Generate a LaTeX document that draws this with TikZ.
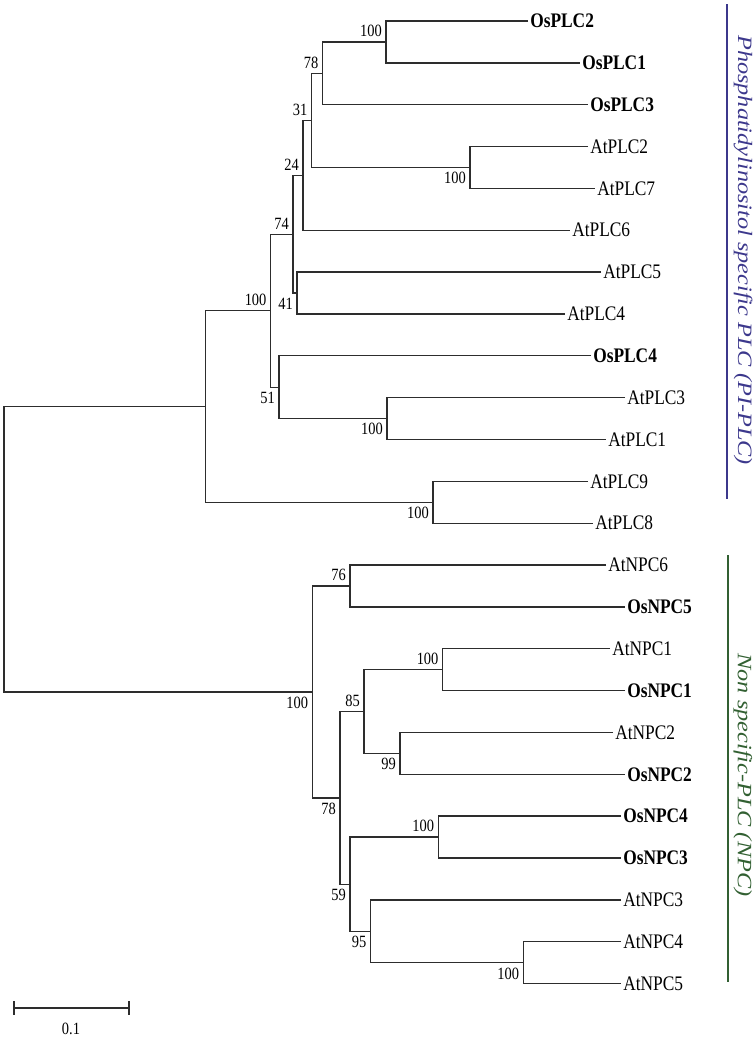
\documentclass[tikz,border=0pt]{standalone}
\usepackage{fontspec}
\setmainfont{Liberation Serif}[FakeStretch=0.84]
\newfontfamily\cladefont{Liberation Serif}[FakeStretch=1.19]
\usetikzlibrary{calc}
\definecolor{piplcblue}{RGB}{60,56,140}
\definecolor{npcgreen}{RGB}{50,96,50}
\definecolor{treegray}{RGB}{45,45,45}

\begin{document}
\begin{tikzpicture}[x=0.75pt, y=-0.75pt,
	branch/.style={draw=treegray, line width=1pt},
	atleaf/.style={anchor=west, inner xsep=1.5pt, inner ysep=0pt, font=\fontsize{15.5}{18}\selectfont},
	osleaf/.style={atleaf, font=\fontsize{15.5}{18}\selectfont\bfseries},
	boot/.style={inner sep=0pt, font=\fontsize{12.9}{15}\selectfont},
	bsup/.style={boot, anchor=south east, xshift=-3pt, yshift=3.5pt},
	bsdown/.style={boot, anchor=north east, xshift=-3pt, yshift=-3.5pt},
	cladebar/.style={line width=1pt},
	cladetext/.style={rotate=-90, font=\cladefont\itshape\fontsize{15.3}{18}\selectfont}]
	\useasboundingbox (0,0) rectangle (754,1039);
	\def\FirstLeaf{21}
	\def\LeafGap{41.85}
	% la cay
	\foreach \name/\xx/\i in {OsPLC2/528/0, OsPLC1/580/1, OsPLC3/588/2, OsPLC4/591/8, OsNPC5/625/14, OsNPC1/625/16, OsNPC2/625/18, OsNPC4/621/19, OsNPC3/621/20}
	\node[osleaf] (\name) at (\xx, {\FirstLeaf+\LeafGap*\i}) {\name};
	\foreach \name/\xx/\i in {AtPLC2/588/3, AtPLC7/595/4, AtPLC6/570/5, AtPLC5/601/6, AtPLC4/565/7, AtPLC3/625/9, AtPLC1/606/10, AtPLC9/588/11, AtPLC8/593/12, AtNPC6/606/13, AtNPC1/610/15, AtNPC2/613/17, AtNPC3/621/21, AtNPC4/621/22, AtNPC5/621/23}
	\node[atleaf] (\name) at (\xx, {\FirstLeaf+\LeafGap*\i}) {\name};
	\newcommand{\joint}[4]{
		\path let \p1=(#3), \p2=(#4) in ({#2*0.75pt}, {0.5*(\y1+\y2)}) coordinate (#1);
		\draw[branch] (#3) -| (#1) |- (#4);
	}
	\newcommand{\clade}[6]{
		\joint{#1}{#2}{#3}{#4}
		\node[#6] (b#1) at (#1) {#5};
	}
	% PI-PLC
	\clade{n1}{386}{OsPLC2.west}{OsPLC1.west}{100}{bsup}
	\clade{n2}{322.7}{n1}{OsPLC3.west}{78}{bsup}
	\clade{n3}{470}{AtPLC2.west}{AtPLC7.west}{100}{bsdown}
	\clade{n4}{311.7}{n2}{n3}{31}{bsup}
	\clade{n5}{303}{n4}{AtPLC6.west}{24}{bsup}
	\clade{n6}{297}{AtPLC5.west}{AtPLC4.west}{41}{bsdown}
	\clade{n7}{293}{n5}{n6}{74}{bsup}
	\clade{n8}{387}{AtPLC3.west}{AtPLC1.west}{100}{bsdown}
	\clade{n9}{279}{OsPLC4.west}{n8}{51}{bsdown}
	\clade{n10}{270.7}{n7}{n9}{100}{bsup}
	\clade{n11}{433}{AtPLC9.west}{AtPLC8.west}{100}{bsdown}
	\joint{n12}{205.7}{n10}{n11}
	% NPC
	\clade{m1}{350}{AtNPC6.west}{OsNPC5.west}{76}{bsup}
	\clade{m2}{442.7}{AtNPC1.west}{OsNPC1.west}{100}{bsup}
	\clade{m3}{400}{AtNPC2.west}{OsNPC2.west}{99}{bsdown}
	\clade{m4}{364}{m2}{m3}{85}{bsup}
	\clade{m5}{438.3}{OsNPC4.west}{OsNPC3.west}{100}{bsup}
	\clade{m6}{523.3}{AtNPC4.west}{AtNPC5.west}{100}{bsdown}
	\clade{m7}{370.7}{AtNPC3.west}{m6}{95}{bsdown}
	\clade{m8}{350}{m5}{m7}{59}{bsdown}
	\clade{m9}{340}{m4}{m8}{78}{bsdown}
	\clade{m10}{312.3}{m1}{m9}{100}{bsdown}
	\joint{root}{4}{n12}{m10}
	% thanh ty le
	\coordinate (barL) at (14,1008);
	\coordinate (barR) at (129,1008);
	\draw[branch] (barL) -- (barR);
	\draw[branch] ([yshift=5.25pt]barL) -- ([yshift=-5.25pt]barL) ([yshift=5.25pt]barR) -- ([yshift=-5.25pt]barR);
	\node[boot] (barlabel) at (71,1029) {0.1};
	% nhom
	\draw[cladebar, piplcblue] (727,4) -- (727,499);
	\node[cladetext, text=piplcblue] (piplc) at (743,250) {Phosphatidylinositol specific PLC (PI-PLC)};
	\draw[cladebar, npcgreen] (728,555) -- (728,982);
	\node[cladetext, text=npcgreen] (npc) at (743,775) {Non specific-PLC (NPC)};
\end{tikzpicture}
\end{document}
